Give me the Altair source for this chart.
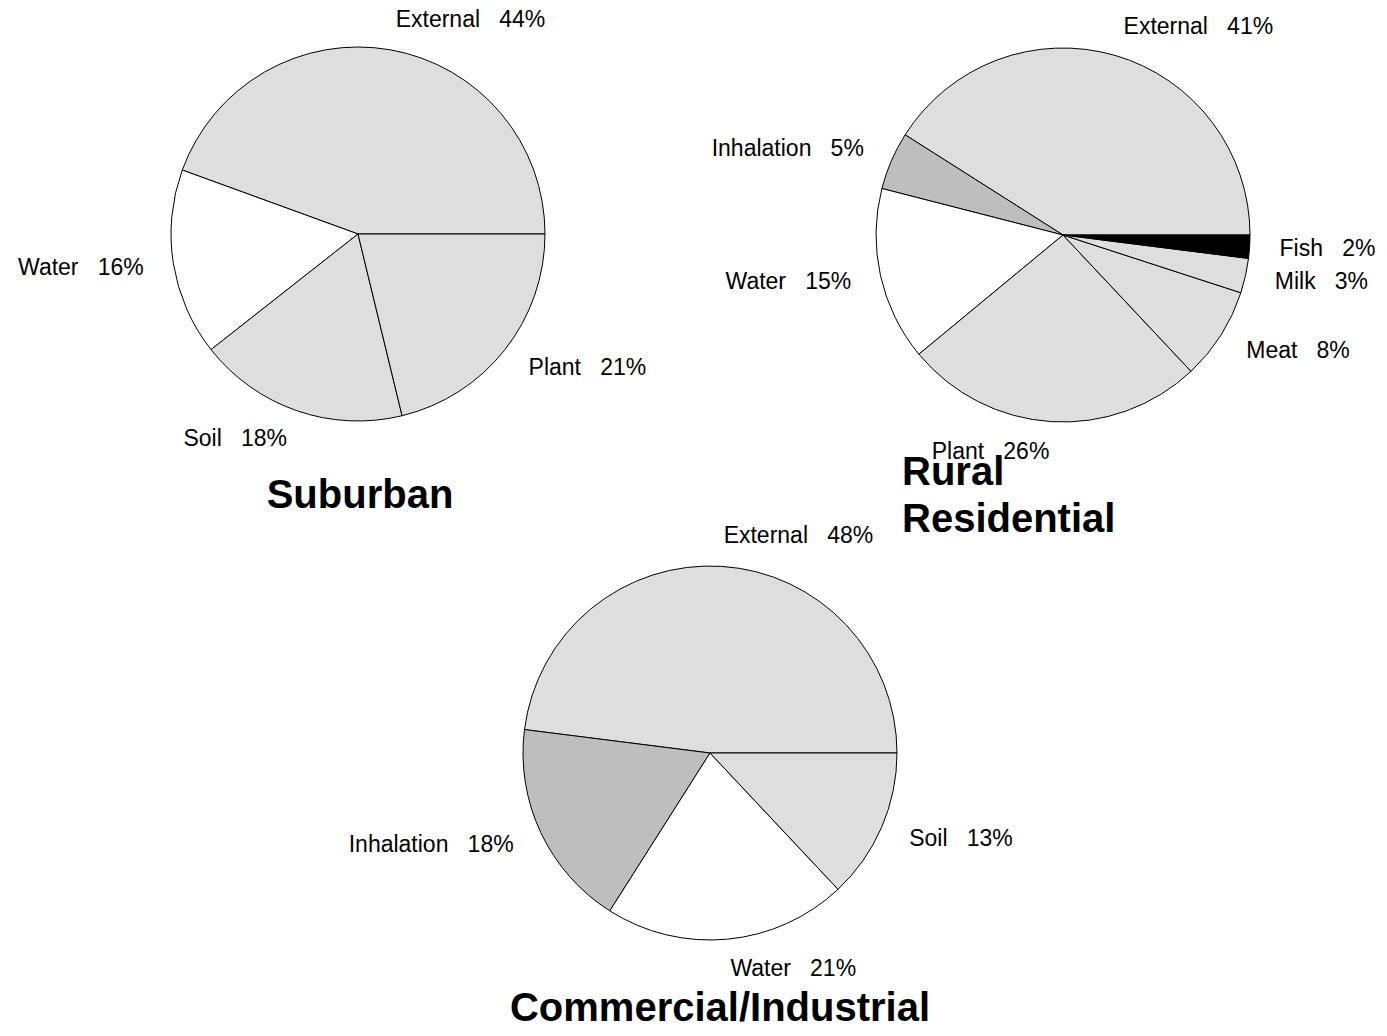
import math
import pandas as pd
import altair as alt

# ---- data ----
SUB_CATS = ["External", "Water", "Soil", "Plant"]
SUB_VALS = [44, 16, 18, 21]

RUR_CATS = ["External", "Inhalation", "Water", "Plant", "Meat", "Milk", "Fish"]
RUR_VALS = [41, 5, 15, 26, 8, 3, 2]

COM_CATS = ["External", "Inhalation", "Water", "Soil"]
COM_VALS = [48, 18, 21, 13]

TITLES = ["Suburban", ["Rural", "Residential"], "Commercial/Industrial"]

FILL_DOMAIN = ["External", "Water", "Soil", "Plant", "Inhalation", "Meat", "Milk", "Fish"]
FILL_RANGE = ["#dedede", "#ffffff", "#dedede", "#dedede", "#bebebe", "#dedede", "#dedede", "#000000"]

# ---- styling / layout ----
FONT = "Liberation Sans"
R = 187
LABEL_R = 217
LABEL_SIZE = 23
TITLE_SIZE = 40
SEP = "\u00a0\u00a0\u00a0"
THETA_RANGE = [math.pi / 2, math.pi / 2 - 2 * math.pi]  # start at 3 o'clock, counter-clockwise

color_scale = alt.Scale(domain=FILL_DOMAIN, range=FILL_RANGE)


def pie_layers(cats, vals, title, cx, cy, tx, ty, talign):
    df = pd.DataFrame({
        "category": cats,
        "value": vals,
        "idx": list(range(len(cats))),
        "label": [f"{c}{SEP}{v}%" for c, v in zip(cats, vals)],
    })
    total = sum(vals)
    tscale = alt.Scale(domain=[0, total], range=THETA_RANGE)

    arcs = alt.Chart(df).mark_arc(outerRadius=R, stroke="black", strokeWidth=1).encode(
        theta=alt.Theta("value:Q", stack=True, scale=tscale),
        order=alt.Order("idx:Q"),
        color=alt.Color("category:N", scale=color_scale, legend=None),
        x=alt.value(cx),
        y=alt.value(cy),
    )

    base = (
        alt.Chart(df)
        .transform_window(cum="sum(value)", sort=[alt.SortField("idx", order="ascending")], frame=[None, 0])
        .transform_calculate(mid="datum.cum - datum.value / 2")
        .transform_calculate(side=f"cos(2 * PI * datum.mid / {total}) < 0 ? 'left' : 'right'")
    )

    def lbl(side, align):
        return base.transform_filter(f"datum.side == '{side}'").mark_text(
            radius=LABEL_R, align=align, baseline="middle", fontSize=LABEL_SIZE, font=FONT, color="black"
        ).encode(
            theta=alt.Theta("mid:Q", stack=False, scale=tscale),
            text=alt.Text("label:N"),
            x=alt.value(cx),
            y=alt.value(cy),
        )

    ttl = alt.Chart(pd.DataFrame({"k": [0]})).mark_text(
        align=talign, baseline="alphabetic", fontSize=TITLE_SIZE, fontWeight="bold",
        font=FONT, color="black", lineHeight=47
    ).encode(text=alt.value(title), x=alt.value(tx), y=alt.value(ty))

    return [arcs, lbl("left", "right"), lbl("right", "left"), ttl]


layers = []
layers += pie_layers(SUB_CATS, SUB_VALS, TITLES[0], 350, 226, 352, 500, "center")
layers += pie_layers(RUR_CATS, RUR_VALS, TITLES[1], 1055, 227, 894, 477, "left")
layers += pie_layers(COM_CATS, COM_VALS, TITLES[2], 702, 745, 712, 1013, "center")

chart = (
    alt.layer(*layers)
    .resolve_scale(theta="independent")
    .properties(width=1371, height=1020, padding=0, autosize=alt.AutoSizeParams(type="none"))
    .configure_view(stroke=None)
)

chart.save("out.html", embed_options={"renderer": "svg", "actions": False})
